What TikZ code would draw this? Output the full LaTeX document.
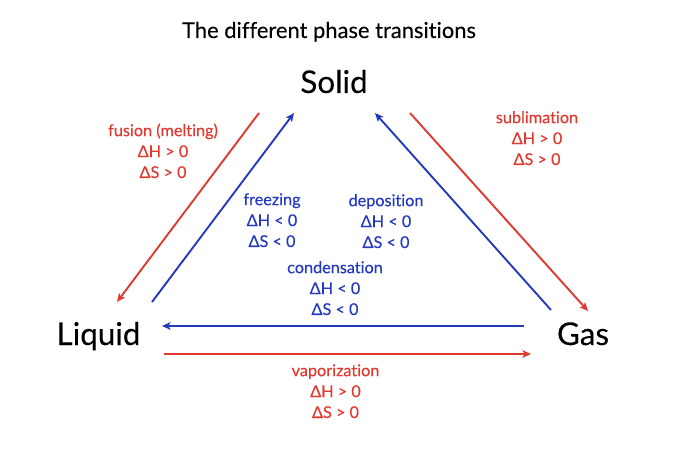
\documentclass[tikz,border=0pt]{standalone}
\usepackage{fontspec}
\setmainfont{Lato}[Ligatures={NoCommon,NoContextual}, FakeBold=0.35]
\newfontfamily\phplain{Lato}[Ligatures={NoCommon,NoContextual}, FakeBold=0.1]
\usetikzlibrary{arrows.meta}
\definecolor{phred}{RGB}{224,58,48}
\definecolor{phblue}{RGB}{36,58,190}
\tikzset{
  phase/.style={font=\phplain\fontsize{31.5}{36}\selectfont, anchor=base, inner sep=0pt, text=black},
  ttl/.style={font=\phplain\fontsize{22}{26}\selectfont, anchor=base, inner sep=0pt, text=black},
  lbl/.style={font=\fontsize{16.3}{21}\selectfont, anchor=base, inner sep=0pt, align=center},
  redlbl/.style={lbl, text=phred},
  bluelbl/.style={lbl, text=phblue},
  tr/.style={line width=1.9bp, -{Stealth[length=8.5bp,width=7.5bp,inset=2bp]}},
  redtr/.style={tr, draw=phred},
  bluetr/.style={tr, draw=phblue},
}
\begin{document}
\begin{tikzpicture}[x=1bp,y=-1bp]
\useasboundingbox (0,0) rectangle (675,450);
\node[ttl] (title) at (329,38) {The different phase transitions};
\node[phase] (solid) at (334,93) {Solid};
\node[phase] (liquid) at (98.5,345) {Liquid};
\node[phase] (gas) at (583,345) {Gas};

\coordinate (fusA) at (259,113);
\coordinate (fusB) at (117,302);
\coordinate (frzA) at (152,302);
\coordinate (frzB) at (294,113);
\coordinate (depA) at (551,310);
\coordinate (depB) at (375,113);
\coordinate (subA) at (410,113);
\coordinate (subB) at (588,311);
\coordinate (conA) at (524,326);
\coordinate (conB) at (162,326);
\coordinate (vapA) at (164,354);
\coordinate (vapB) at (531,354);

\draw[redtr] (fusA) -- (fusB);
\draw[bluetr] (frzA) -- (frzB);
\draw[bluetr] (depA) -- (depB);
\draw[redtr] (subA) -- (subB);
\draw[bluetr] (conA) -- (conB);
\draw[redtr] (vapA) -- (vapB);

\node[redlbl] (fusion) at (163,178) {fusion (melting)\\ΔH > 0\\ΔS > 0};
\node[bluelbl] (freezing) at (272,247) {freezing\\ΔH < 0\\ΔS < 0};
\node[bluelbl] (deposition) at (386,248) {deposition\\ΔH < 0\\ΔS < 0};
\node[bluelbl] (condensation) at (335,315) {condensation\\ΔH < 0\\ΔS < 0};
\node[redlbl] (sublimation) at (537,165) {sublimation\\ΔH > 0\\ΔS > 0};
\node[redlbl] (vaporization) at (335.5,418) {vaporization\\ΔH > 0\\ΔS > 0};
\end{tikzpicture}
\end{document}
